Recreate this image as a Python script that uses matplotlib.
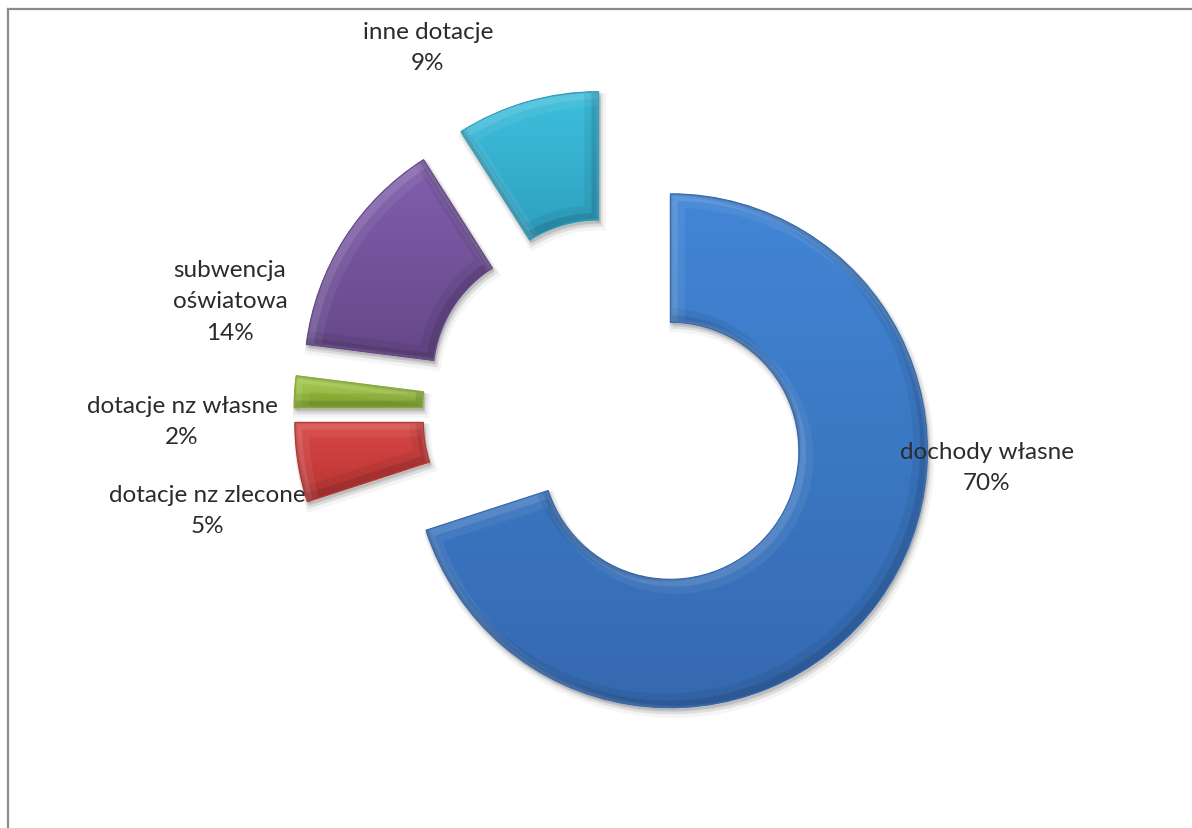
import matplotlib
matplotlib.use('Agg')
import matplotlib.pyplot as plt
import matplotlib.patches as mpatches
import matplotlib.transforms as mtransforms
import numpy as np
from matplotlib.colors import to_rgb

# Dane wykresu
kategorie = ['dochody własne', 'dotacje nz zlecone', 'dotacje nz własne',
             'subwencja oświatowa', 'inne dotacje']
udzialy = [70, 5, 2, 14, 9]
etykiety = ['dochody własne\n70%', 'dotacje nz zlecone\n5%', 'dotacje nz własne\n2%',
            'subwencja\noświatowa\n14%', 'inne dotacje\n9%']

# kolory: (jasny u gory, ciemny u dolu)
kolory = [('#4286d6', '#3569b0'), ('#d94747', '#b73532'), ('#a3c94a', '#88ad30'),
          ('#8160ae', '#654787'), ('#3ec0dd', '#2e9fbe')]

W, H, DPI = 1192, 829, 100
CX, CY, R = 617, 413, 257   # srodek i promien w pikselach


def px(x, y):
    # piksele obrazka -> wspolrzedne danych
    return (x - CX) / R, (CY - y) / R


fig = plt.figure(figsize=(W / DPI, H / DPI), dpi=DPI)
ax = fig.add_axes([0, 0, 1, 1])
ax.axis('off')

wedges, _ = ax.pie(udzialy, radius=1, startangle=90, counterclock=False,
                   explode=[66 / R] * len(udzialy),
                   wedgeprops=dict(width=0.5, linewidth=0))
ax.set_xlim(-CX / R, (W - CX) / R)
ax.set_ylim(-(H - CY) / R, CY / R)
ax.set_aspect('auto')


def przesun(dx, dy):
    return mtransforms.ScaledTranslation(dx / DPI, dy / DPI, fig.dpi_scale_trans)


for w, (jasny, ciemny) in zip(wedges, kolory):
    path = w.get_path()
    tr = w.get_transform()
    w.set_facecolor(ciemny)
    w.set_zorder(2)

    # cien
    for k, a in [(6, 0.04), (4, 0.06), (2, 0.08)]:
        sh = mpatches.PathPatch(path, transform=tr + przesun(k * 0.5, -k), facecolor='#000000',
                                edgecolor='#000000', linewidth=k, alpha=a, zorder=1)
        ax.add_patch(sh)

    # gradient pionowy
    ext = path.get_extents()
    c1 = np.array(to_rgb(jasny))
    c2 = np.array(to_rgb(ciemny))
    t = np.linspace(0, 1, 256)[:, None]
    grad = (c1 * (1 - t) + c2 * t)[:, None, :]
    im = ax.imshow(grad, extent=[ext.x0, ext.x1, ext.y0, ext.y1], origin='upper',
                   aspect='auto', zorder=3, interpolation='bilinear')
    im.set_clip_path(w)

    # faza: jasna krawedz u gory/lewej, ciemna u dolu/prawej
    for k, a in [(3, 0.10), (6, 0.06)]:
        hi = mpatches.PathPatch(path, transform=tr + przesun(k, -k), facecolor='none',
                                edgecolor='white', linewidth=2 * k, alpha=a, zorder=4)
        ax.add_patch(hi)
        hi.set_clip_path(w)
        lo = mpatches.PathPatch(path, transform=tr + przesun(-k, k), facecolor='none',
                                edgecolor='black', linewidth=2 * k, alpha=a, zorder=4)
        ax.add_patch(lo)
        lo.set_clip_path(w)
    brzeg = mpatches.PathPatch(path, transform=tr, facecolor='none',
                               edgecolor=ciemny, linewidth=0.8, zorder=5)
    ax.add_patch(brzeg)

# etykiety danych (pozycje w pikselach)
pozycje = [(987, 468), (207, 511), (182, 422), (230, 302), (428, 48)]
for tekst, (x, y) in zip(etykiety, pozycje):
    ax.text(*px(x, y), tekst, ha='center', va='center', fontsize=17.5,
            family='Lato', color='#2b2b2b', linespacing=1.62, zorder=6)

# ramka obszaru wykresu
fig.add_artist(plt.Line2D([8 / W, 8 / W], [0, 1 - 10 / H], transform=fig.transFigure,
                          color='#8c8c8c', linewidth=1.6))
fig.add_artist(plt.Line2D([8 / W, 1], [1 - 10 / H, 1 - 10 / H], transform=fig.transFigure,
                          color='#8c8c8c', linewidth=1.6))

fig.savefig('out.png', dpi=DPI)
